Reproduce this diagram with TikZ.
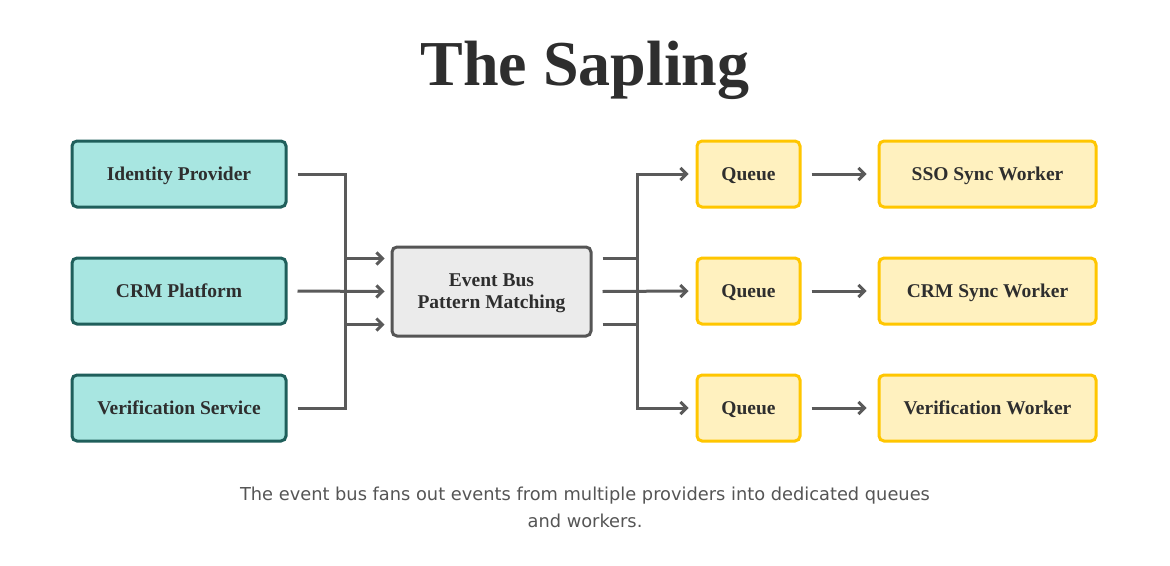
\documentclass[tikz,border=0pt]{standalone}
\usepackage{fontspec}
\setmainfont{Liberation Serif}
\newfontfamily\capfont{DejaVu Sans}
\usetikzlibrary{arrows.meta}
\definecolor{tealfill}{HTML}{A8E6E1}
\definecolor{tealline}{HTML}{1F5F5B}
\definecolor{busfill}{HTML}{EBEBEB}
\definecolor{busline}{HTML}{555555}
\definecolor{qfill}{HTML}{FFF1BF}
\definecolor{qline}{HTML}{FFC600}
\definecolor{arr}{HTML}{5A5A5A}
\definecolor{txt}{HTML}{2E2E2E}
\begin{document}
\begin{tikzpicture}[x=1pt,y=-1pt,
  box/.style={rounded corners=5pt, line width=3pt, font=\bfseries\fontsize{19.5}{22}\selectfont, text=txt, align=center, inner sep=0pt, text depth=0pt},
  src/.style={box, draw=tealline, fill=tealfill, minimum width=214pt, minimum height=66pt},
  bus/.style={box, draw=busline, fill=busfill, minimum width=199pt, minimum height=89pt},
  queue/.style={box, draw=qline, fill=qfill, minimum width=103pt, minimum height=66pt},
  worker/.style={box, draw=qline, fill=qfill, minimum width=217pt, minimum height=66pt},
  conn/.style={draw=arr, line width=3pt, -{Straight Barb[length=6pt,width=12pt,line width=3pt]}}
]
\useasboundingbox (0,0) rectangle (1170,565);
\fill[white] (0,0) rectangle (1170,565);
\node[font=\bfseries\fontsize{64}{70}\selectfont, text=txt] (title) at (585,70) {The Sapling};

\node[src] (idp) at (179,174) {Identity Provider};
\node[src] (crm) at (179,291) {CRM Platform};
\node[src] (ver) at (179,408) {Verification Service};

\node[bus] (bus) at (491.5,291.5) {Event Bus\\Pattern Matching};

\node[queue] (q1) at (748.5,174) {Queue};
\node[queue] (q2) at (748.5,291) {Queue};
\node[queue] (q3) at (748.5,408) {Queue};

\node[worker] (w1) at (987.5,174) {SSO Sync Worker};
\node[worker] (w2) at (987.5,291) {CRM Sync Worker};
\node[worker] (w3) at (987.5,408) {Verification Worker};

\coordinate (a1) at (345,174);
\coordinate (a3) at (345,408);
\coordinate (b1) at (637,174);
\coordinate (b3) at (637,408);

\draw[conn] ([xshift=10pt]idp.east) -| (a1) |- ([xshift=-6pt,yshift=-33pt]bus.west);
\draw[conn] ([xshift=10pt]crm.east) -- ([xshift=-6pt]bus.west);
\draw[conn] ([xshift=10pt]ver.east) -| (a3) |- ([xshift=-6pt,yshift=33pt]bus.west);

\draw[conn] ([xshift=10pt,yshift=-33pt]bus.east) -| (b1) |- ([xshift=-7pt]q1.west);
\draw[conn] ([xshift=10pt]bus.east) -- ([xshift=-7pt]q2.west);
\draw[conn] ([xshift=10pt,yshift=33pt]bus.east) -| (b3) |- ([xshift=-7pt]q3.west);

\draw[conn] ([xshift=10pt]q1.east) -- ([xshift=-11pt]w1.west);
\draw[conn] ([xshift=10pt]q2.east) -- ([xshift=-11pt]w2.west);
\draw[conn] ([xshift=10pt]q3.east) -- ([xshift=-11pt]w3.west);

\node[font=\capfont\fontsize{17.8}{27}\selectfont, text=busline, align=center] (cap) at (585,507) {The event bus fans out events from multiple providers into dedicated queues\\and workers.};
\end{tikzpicture}
\end{document}
